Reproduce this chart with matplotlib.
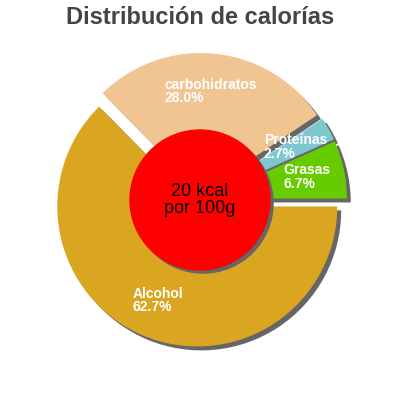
import matplotlib.pyplot as plt
from matplotlib.patches import Circle
import numpy as np

# data
names = ["Grasas", "Proteínas", "carbohidratos", "Alcohol"]
pcts = [6.7, 2.7, 28.0, 62.7]
colors = ["#66cc00", "#7ec7d0", "#f0c592", "#daa520"]
center_text = "20 kcal\npor 100g"
title = "Distribución de calorías"

plt.rcParams['font.family'] = ['Liberation Sans', 'DejaVu Sans']

fig = plt.figure(figsize=(4, 4), dpi=100)
ax = fig.add_axes([0, 0, 1, 1])

explode = [0.05] * len(pcts)

# gray shadow drawn first, shifted down-right
ax.pie(pcts, explode=explode, colors=["#666666"] * len(pcts), startangle=0,
       counterclock=True, radius=1, center=(0.028, -0.028),
       wedgeprops=dict(linewidth=0))

labels = [f"{n}\n{p:.1f}%" for n, p in zip(names, pcts)]
wedges, texts = ax.pie(pcts, explode=explode, colors=colors, startangle=0,
                       counterclock=True, radius=1, labels=labels,
                       labeldistance=0.73,
                       wedgeprops=dict(linewidth=0),
                       textprops=dict(color="white", fontsize=10,
                                      fontweight="bold"))
for t in texts:
    t.set_horizontalalignment('center')
    t.set_verticalalignment('center')
    t.set_multialignment('left')
    t.set_linespacing(0.95)

# center disc with its shadow
ax.add_patch(Circle((0.022, -0.022), 0.5, color="#666666", zorder=3))
ax.add_patch(Circle((0, 0), 0.5, color="#ff0000", zorder=4))
ax.text(0, 0, center_text, ha='center', va='center', fontsize=13,
        color='black', linespacing=0.95, zorder=5)

# pie() resets the limits, so set them afterwards
lim = 200 / 140
ax.set_xlim(-lim, lim)
ax.set_ylim(-lim, lim)
ax.set_aspect('equal')
ax.axis('off')

fig.text(0.5, 1 - 17 / 400, title, ha='center', va='center', fontsize=17,
         fontweight='bold', color='#444444')

fig.savefig("out.png", dpi=100)
